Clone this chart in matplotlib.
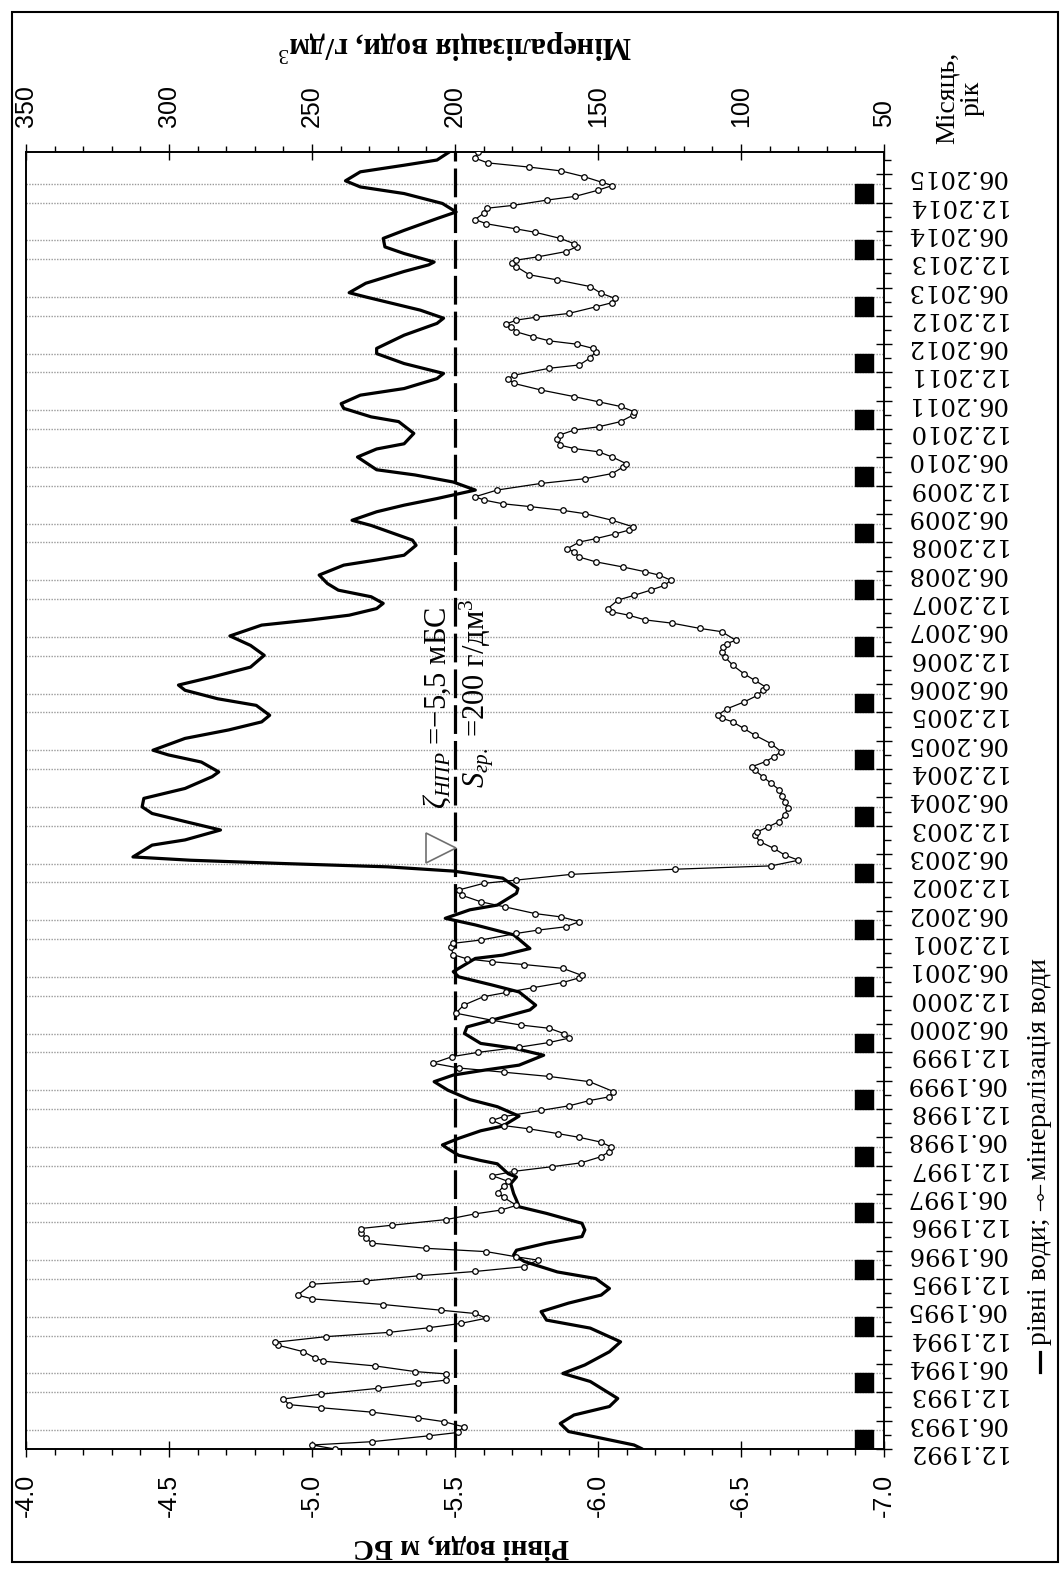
import matplotlib
matplotlib.use("Agg")
import matplotlib.pyplot as plt
from matplotlib.ticker import MultipleLocator
from matplotlib.patches import Rectangle
from matplotlib.lines import Line2D

plt.rcParams['font.family'] = ['Liberation Serif', 'DejaVu Serif']
plt.rcParams['mathtext.fontset'] = 'custom'
plt.rcParams['mathtext.rm'] = 'Liberation Serif'
plt.rcParams['mathtext.it'] = 'Liberation Serif:italic'

# months counted from 12.1992
level_m = [0, 0.85, 2.3, 3.7, 5.4, 7.2, 9.0, 10.7, 14.3, 16.0, 17.8, 20.6, 22.7, 25.6, 27.3, 29.1,
           30.9, 32.6, 34.0, 36.1, 37.5, 39.7, 41.1, 42.1, 43.6, 45.0, 46.4, 47.8, 49.9, 51.3, 52.7, 54.1,
           56.2, 57.6, 58.3, 60.4, 61.1, 62.2, 63.6, 64.4, 65.8, 67.4, 68.4, 70.5, 72.5, 74.0, 76.0, 77.8,
           79.2, 80.3, 81.3, 83.4, 84.9, 85.9, 88.0, 89.4, 90.8, 93.0, 94.0, 96.8, 98.3, 100.0, 101.1, 103.9,
           104.6, 106.0, 108.9, 111.0, 112.4, 114.2, 115.2, 117.7, 118.7, 120.9, 122.4, 123.3, 124.0, 124.7, 125.4, 127.9,
           129.0, 131.1, 132.9, 134.6, 136.0, 137.8, 139.9, 142.4, 143.4, 145.5, 147.0, 148.0, 150.5, 152.3, 154.0, 155.4,
           157.5, 158.9, 160.7, 161.8, 163.5, 165.6, 168.1, 170.2, 172.2, 174.5, 175.6, 176.6, 178.0, 179.1, 180.5, 181.9,
           183.3, 185.1, 187.2, 188.3, 189.3, 191.4, 192.5, 195.6, 196.7, 198.5, 199.9, 201.3, 203.1, 204.8, 206.3, 207.4,
           210.1, 211.8, 212.9, 215.1, 217.6, 218.6, 220.4, 221.4, 223.2, 224.6, 226.7, 227.8, 229.9, 232.0, 233.1, 235.9,
           238.4, 239.5, 241.2, 242.6, 244.0, 244.9, 246.9, 249.4, 250.8, 251.4, 253.2, 254.6, 256.4, 258.1, 260.6, 262.0,
           263.8, 265.9, 267.3, 268.6, 270.5, 271.9, 273.0, 274.7]
level_v = [-6.155, -6.126, -6.011, -5.897, -5.868, -5.916, -6.040, -6.069, -5.973, -5.877, -5.954, -6.040, -6.079, -5.973, -5.820, -5.801,
           -5.897, -6.011, -6.040, -5.992, -5.858, -5.743, -5.705, -5.715, -5.820, -5.944, -5.954, -5.944, -5.820, -5.724, -5.715, -5.705,
           -5.695, -5.715, -5.686, -5.648, -5.590, -5.513, -5.475, -5.456, -5.513, -5.590, -5.667, -5.724, -5.648, -5.552, -5.475, -5.427,
           -5.494, -5.609, -5.724, -5.810, -5.705, -5.590, -5.533, -5.542, -5.628, -5.762, -5.782, -5.724, -5.628, -5.513, -5.494, -5.571,
           -5.667, -5.762, -5.705, -5.571, -5.466, -5.552, -5.648, -5.715, -5.720, -5.667, -5.494, -5.264, -4.900, -4.575, -4.374, -4.441,
           -4.556, -4.680, -4.556, -4.441, -4.406, -4.412, -4.556, -4.651, -4.674, -4.613, -4.498, -4.444, -4.556, -4.709, -4.824, -4.852,
           -4.805, -4.670, -4.556, -4.533, -4.651, -4.785, -4.833, -4.785, -4.713, -4.824, -4.996, -5.130, -5.226, -5.249, -5.207, -5.092,
           -5.054, -5.025, -5.111, -5.226, -5.322, -5.364, -5.351, -5.207, -5.140, -5.226, -5.322, -5.437, -5.571, -5.494, -5.360, -5.226,
           -5.159, -5.226, -5.322, -5.356, -5.303, -5.207, -5.111, -5.102, -5.169, -5.322, -5.437, -5.460, -5.322, -5.226, -5.226, -5.322,
           -5.437, -5.460, -5.379, -5.284, -5.188, -5.130, -5.188, -5.322, -5.408, -5.427, -5.322, -5.255, -5.249, -5.322, -5.437, -5.504,
           -5.456, -5.322, -5.169, -5.117, -5.169, -5.322, -5.437, -5.480]

mineral_m = [0, 0.85, 1.55, 2.8, 3.5, 4.7, 5.8, 6.6, 7.8, 8.75, 9.4, 10.6, 11.6, 12.85, 13.9, 14.6,
             15.9, 16.4, 17.6, 18.6, 19.3, 20.6, 22.0, 22.6, 23.8, 24.7, 25.7, 26.6, 27.7, 28.7, 29.4, 30.6,
             31.8, 32.6, 34.9, 35.6, 36.7, 37.6, 38.6, 40.0, 40.7, 41.8, 42.5, 43.6, 44.6, 45.8, 46.7, 47.4,
             48.6, 49.8, 50.6, 51.6, 53.3, 54.3, 55.7, 56.7, 57.9, 58.8, 59.8, 60.6, 61.9, 63.0, 64.0, 65.0,
             66.0, 66.8, 67.8, 68.5, 69.6, 70.4, 71.7, 72.7, 73.8, 74.6, 75.7, 77.8, 78.9, 79.8, 80.7, 81.7,
             83.1, 84.0, 85.1, 86.1, 87.0, 88.0, 89.1, 89.8, 90.8, 92.3, 94.0, 95.8, 96.7, 97.7, 98.8, 99.8,
             100.3, 101.8, 102.6, 103.2, 103.8, 104.7, 106.4, 107.1, 107.8, 109.2, 109.9, 110.6, 111.7, 112.7, 113.4, 114.8,
             115.9, 117.3, 118.4, 119.8, 120.5, 121.7, 122.8, 123.5, 124.7, 125.8, 127.2, 128.6, 130.0, 130.7, 131.8, 132.9,
             134.3, 135.7, 137.1, 138.2, 139.6, 141.0, 142.4, 143.8, 144.5, 145.6, 146.6, 147.7, 149.4, 151.2, 152.6, 154.0,
             154.8, 155.4, 156.8, 158.2, 159.6, 160.7, 161.4, 162.8, 164.2, 166.0, 167.8, 168.8, 169.9, 170.6, 171.3, 173.1,
             173.8, 174.9, 175.6, 176.6, 177.3, 178.0, 179.8, 180.8, 181.9, 182.9, 184.0, 185.1, 185.8, 186.8, 187.9, 188.9,
             190.0, 190.7, 192.1, 192.8, 193.8, 194.6, 195.3, 196.7, 198.1, 198.8, 199.6, 200.2, 201.0, 201.7, 203.1, 204.5,
             205.5, 206.6, 208.0, 208.7, 210.1, 211.2, 211.9, 212.6, 214.0, 214.8, 215.8, 216.5, 217.6, 219.0, 219.7, 220.8,
             221.8, 222.9, 224.3, 225.7, 226.7, 227.4, 228.9, 229.6, 231.1, 232.4, 233.1, 234.0, 234.7, 235.6, 236.6, 237.7,
             238.3, 239.1, 239.7, 240.5, 241.9, 242.8, 243.7, 244.8, 246.2, 247.6, 248.7, 250.4, 251.1, 251.8, 252.5, 253.6,
             254.6, 255.3, 256.4, 257.7, 258.4, 259.5, 260.4, 261.7, 262.8, 263.4, 264.5, 265.3, 266.6, 267.6, 268.3, 269.5,
             270.7, 271.5, 272.4, 273.4, 274.7]
mineral_v = [242, 250, 229, 209, 199, 197, 204, 213, 229, 247, 258, 260, 247, 227, 213, 203,
             203, 214, 228, 246, 249, 253, 262, 263, 245, 223, 209, 198, 189, 193, 205, 225,
             250, 255, 250, 231, 212.5, 193, 176, 171, 178.5, 189, 210, 229, 231, 233, 233, 222,
             203, 193, 184, 178.5, 183, 185, 183, 181.5, 187, 179.5, 166, 156, 149, 146, 145.5, 149,
             156.5, 164, 174, 183, 187, 183, 170, 160, 153, 146, 144.6, 153, 167, 183, 198.7, 207.7,
             201, 192, 177.6, 167, 160.3, 162, 167, 177, 187, 199.7, 197, 190, 182, 172.8, 162.3, 156.5,
             155.6, 162.3, 175.7, 187, 195.8, 200.6, 201.5, 200.6, 191, 178.5, 171, 161.3, 156.5, 163, 172, 182.4,
             191, 197.7, 198.7, 190, 178.5, 159.4, 123, 89.5, 79.9, 84.7, 88.5, 93.3, 95.2, 94.3, 90.4, 86.6,
             84.7, 83.7, 84.7, 85.6, 86.6, 89.5, 92.4, 95.2, 96.2, 91.4, 88.5, 86.0, 89.5, 95.2, 99.0, 102.9,
             106.7, 108.2, 104.8, 99.0, 94.3, 92.4, 91.4, 95.2, 99.0, 102.9, 105.7, 106.7, 106.3, 104.8, 101.9, 106.7,
             114.4, 124, 133.5, 139.3, 145, 146.6, 143, 137.4, 131.6, 126.8, 124.5, 128.7, 133.5, 141.2, 150.8, 156.5,
             158.4, 160.7, 156.5, 150.8, 144.1, 139.3, 137.7, 145, 154.6, 162.3, 173.8, 183.3, 190, 192.9, 185.3, 170,
             154.6, 145, 141.2, 140.2, 145, 149.8, 158.4, 163.2, 164.2, 163.2, 158.4, 149.8, 142.1, 137.7, 137.4, 142.1,
             149.8, 158.4, 170, 179.5, 181.4, 179.5, 167, 156.5, 152.7, 150.8, 151.7, 157.5, 167, 172.8, 178.5, 180.5,
             182, 178.5, 171.8, 160.3, 150.8, 145, 144.1, 149, 152.7, 164.2, 174, 178.5, 180, 178.5, 171, 161.3,
             157.5, 158.4, 163.2, 172, 178.5, 189, 193, 190, 188.7, 179.6, 168, 158, 150, 145, 148.7, 155,
             163, 174, 188.6, 193, 192]

# ice periods (dec - apr), months from 12.1992
ice_start = [0, 12, 24, 36, 48, 60, 72, 84, 96, 108, 120, 132, 144, 156, 168, 180, 192, 204, 216, 228, 240, 252, 264]
ice_len = 4

npr_level = -5.5
mark_m = 127.3
m_end = 274.7

tick_months = list(range(0, 271, 6))
tick_labels = [("12" if i % 2 == 0 else "06") + "." + str(1992 + (i + 1) // 2) for i in range(len(tick_months))]

W, H = 1064, 1573
fig = plt.figure(figsize=(W / 100, H / 100), dpi=100)
ax = fig.add_axes([26 / W, 1 - 1449 / H, (884 - 26) / W, (1449 - 152) / H])

for s in ice_start:
    ax.axhline(s, color='#9a9a9a', ls=(0, (1, 1)), lw=1.0, zorder=1)
    ax.axhline(s + ice_len, color='#9a9a9a', ls=(0, (1, 1)), lw=1.0, zorder=1)
    ax.add_patch(Rectangle((-6.962, s), 0.062, ice_len, color='black', zorder=2))

ax.axvline(npr_level, color='black', lw=2.3, dashes=(9, 2.2), zorder=3)
ax.plot(level_v, level_m, color='black', lw=2.3, solid_joinstyle='round',
        solid_capstyle='round', zorder=4)
ax.plot([npr_level + 0.05], [mark_m], marker='>', ms=21, mfc='white', mec='#707070', mew=1.2, zorder=5)

ax.set_xlim(-4, -7)
ax.set_ylim(0, m_end)

ax.set_xticks([-4.0, -4.5, -5.0, -5.5, -6.0, -6.5, -7.0])
ax.set_xticklabels(["-4.0", "-4.5", "-5.0", "-5.5", "-6.0", "-6.5", "-7.0"], family='Liberation Sans')
ax.xaxis.set_minor_locator(MultipleLocator(0.1))
ax.tick_params(axis='x', which='major', direction='inout', length=12, width=1, pad=12,
               labelsize=18, labelrotation=90)
ax.tick_params(axis='x', which='minor', direction='out', length=4.5, width=1)

ax.yaxis.tick_right()
ax.set_yticks(tick_months)
ax.set_yticklabels(tick_labels, family='DejaVu Serif')
ax.yaxis.set_minor_locator(MultipleLocator(3))
ax.tick_params(axis='y', which='major', direction='inout', length=11, width=1, pad=10,
               labelsize=17.5, labelrotation=180)
ax.tick_params(axis='y', which='minor', direction='out', length=5, width=1)

ax2 = ax.twiny()
ax2.plot(mineral_v, mineral_m, color='black', lw=0.9, marker='o', ms=4, mfc='white',
         mec='black', mew=0.9, zorder=4)
ax2.set_xlim(350, 50)
ax2.set_xticks([350, 300, 250, 200, 150, 100, 50])
ax2.set_xticklabels(["350", "300", "250", "200", "150", "100", "50"], family='Liberation Sans')
ax2.xaxis.set_minor_locator(MultipleLocator(10))
ax2.tick_params(axis='x', which='major', direction='inout', length=12, width=1, pad=12,
                labelsize=18, labelrotation=90)
ax2.tick_params(axis='x', which='minor', direction='out', length=4.5, width=1)

for a in (ax, ax2):
    for sp in a.spines.values():
        sp.set_linewidth(1.2)

ax.text(-5.437, 157, r"$\zeta_{\mathit{НПР}}$ =−5,5 мБС", rotation=90, fontsize=22,
        ha='center', va='center', zorder=6)
ax.text(-5.575, 160, r"$S_{\mathit{гр.}}$ =200 г/дм$^3$", rotation=90, fontsize=22,
        ha='center', va='center', zorder=6)

fig.text(455 / W, 1 - 45 / H, "Мінералізація води, г/дм$^3$", rotation=180, fontsize=22,
         fontweight='bold', ha='center', va='center')
fig.text(461 / W, 1 - 1547 / H, "Рівні води, м БС", rotation=180, fontsize=21,
         fontweight='bold', ha='center', va='center')
fig.text(960 / W, 1 - 98 / H, "Місяць,\nрік", rotation=90, fontsize=20, ha='center', va='center',
         multialignment='center', linespacing=1.0)

# legend drawn vertically on the right
fig.add_artist(Line2D([1040 / W, 1040 / W], [1 - 1372 / H, 1 - 1352 / H], color='black', lw=2.3))
fig.text(1040 / W, 1 - 1345 / H, "рівні води;", rotation=90, fontsize=20, ha='center', va='bottom')
fig.add_artist(Line2D([1040 / W, 1040 / W], [1 - 1210 / H, 1 - 1185 / H], color='black', lw=0.9))
fig.add_artist(Line2D([1040 / W], [1 - 1197 / H], color='black', marker='o', ms=4, mfc='white', mew=0.9))
fig.text(1040 / W, 1 - 1180 / H, "мінералізація води", rotation=90, fontsize=20, ha='center', va='bottom')

fig.add_artist(Rectangle((12 / W, 1 - 1562 / H), (1058 - 12) / W, (1562 - 12) / H, fill=False,
                         ec='black', lw=1.5, transform=fig.transFigure))

fig.savefig("out.png", dpi=100)
